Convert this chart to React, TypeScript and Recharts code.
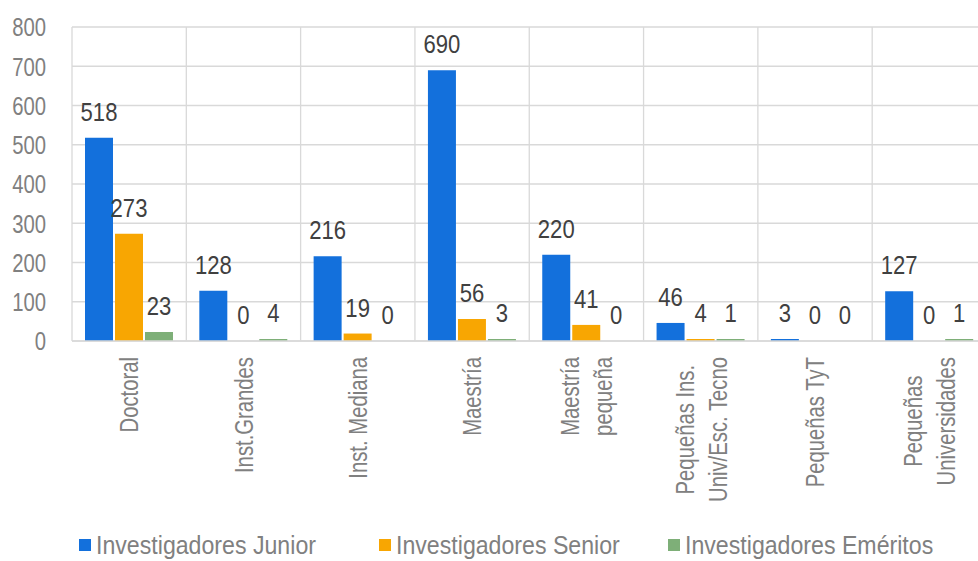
import React from "react";
import { BarChart, Bar, XAxis, YAxis, CartesianGrid, Legend } from "recharts";

const categories = [
  "Doctoral",
  "Inst.Grandes",
  "Inst. Mediana",
  "Maestría",
  "Maestría\npequeña",
  "Pequeñas Ins.\nUniv/Esc. Tecno",
  "Pequeñas TyT",
  "Pequeñas\nUniversidades",
];
const junior = [518, 128, 216, 690, 220, 46, 3, 127];
const senior = [273, 0, 19, 56, 41, 4, 0, 0];
const emeritos = [23, 4, 0, 3, 0, 1, 0, 1];
const yTicks = [0, 100, 200, 300, 400, 500, 600, 700, 800];

const seriesNames = ["Investigadores Junior", "Investigadores Senior", "Investigadores Eméritos"];
const seriesColors = ["#1370DC", "#F8A602", "#7EAF78"];
const seriesKeys = ["junior", "senior", "emeritos"];

const data = categories.map((c, i) => ({
  name: c,
  junior: junior[i],
  senior: senior[i],
  emeritos: emeritos[i],
}));

const FONT = "'Liberation Sans', Arial, sans-serif";
const FS = 26;
const SX = 0.78;
const LSX = 0.85;
const LEG_SX = 0.89;
const TICK_COLOR = "#808080";
const LABEL_COLOR = "#404040";
const GRID = "#d9d9d9";

let ctx: CanvasRenderingContext2D | null = null;
function measure(t: string) {
  if (!ctx) {
    const c = document.createElement("canvas");
    ctx = c.getContext("2d");
  }
  if (!ctx) return t.length * 12;
  ctx.font = `${FS}px 'Liberation Sans'`;
  return ctx.measureText(t).width * SX;
}

const XTick = (props: any) => {
  const { x, y, payload } = props;
  const lines = String(payload.value).split("\n");
  const n = lines.length;
  const widths = lines.map(measure);
  const maxW = Math.max(...widths);
  const LH = 33;
  const top = y;
  return (
    <g>
      {lines.map((ln, i) => {
        const bx = x + (i - (n - 1) / 2) * LH + 9.3;
        const ay = top + (maxW - widths[i]) / 2;
        return (
          <text
            key={i}
            transform={`translate(${bx},${ay}) rotate(-90) scale(${SX},1)`}
            textAnchor="end"
            fontFamily={FONT}
            fontSize={FS}
            fill={TICK_COLOR}
          >
            {ln}
          </text>
        );
      })}
    </g>
  );
};

const YTick = (props: any) => {
  const { y, payload } = props;
  return (
    <text
      transform={`translate(46,${y + 9.3}) scale(${SX},1)`}
      textAnchor="end"
      fontFamily={FONT}
      fontSize={FS}
      fill={TICK_COLOR}
    >
      {payload.value}
    </text>
  );
};

const BarLabel = (props: any) => {
  const { x, y, width, value } = props;
  if (value === undefined || value === null) return null;
  const cx = x + width / 2;
  return (
    <text
      transform={`translate(${cx},${y - 17}) scale(${LSX},1)`}
      textAnchor="middle"
      fontFamily={FONT}
      fontSize={FS}
      fill={LABEL_COLOR}
    >
      {value}
    </text>
  );
};

const legendLefts = [79, 379, 668];
const LegendContent = () => (
  <div style={{ position: "relative", width: 978, height: 30 }}>
    {seriesNames.map((nm, i) => (
      <div
        key={nm}
        style={{ position: "absolute", left: legendLefts[i], top: 2, height: 24, display: "flex", alignItems: "center" }}
      >
        <div style={{ width: 12, height: 12, background: seriesColors[i], marginRight: 5 }} />
        <span
          style={{
            fontFamily: FONT,
            fontSize: FS,
            color: TICK_COLOR,
            display: "inline-block",
            transform: `scaleX(${LEG_SX})`,
            transformOrigin: "left center",
            whiteSpace: "nowrap",
            lineHeight: "24px",
            height: 24,
          }}
        >
          {nm}
        </span>
      </div>
    ))}
  </div>
);

const minSize = (v: number) => (v > 0 ? 2 : 0.001);

export default function App() {
  return (
    <div style={{ position: "absolute", left: 0, top: 0, width: 978, height: 561, overflow: "hidden", background: "#fff" }}>
      <BarChart
        width={1000}
        height={561}
        data={data}
        margin={{ top: 27, right: 13.5, left: 0, bottom: 40 }}
        barGap={2}
        barSize={28}
      >
        <CartesianGrid
          stroke={GRID}
          strokeWidth={1.3}
          verticalCoordinatesGenerator={({ offset }: any) =>
            categories.map((_, i) => offset.left + (i * offset.width) / categories.length).concat([offset.left + offset.width])
          }
        />
        <XAxis
          dataKey="name"
          interval={0}
          tickLine={false}
          axisLine={{ stroke: GRID, strokeWidth: 1.5 }}
          height={150}
          tick={<XTick />}
          tickSize={0}
          tickMargin={16}
        />
        <YAxis
          domain={[0, 800]}
          ticks={yTicks}
          axisLine={false}
          tickLine={false}
          width={72}
          tick={<YTick />}
          interval={0}
        />
        <Legend verticalAlign="bottom" height={30} content={<LegendContent />} wrapperStyle={{ left: 0, bottom: 0, width: 978 }} />
        {seriesKeys.map((k, i) => (
          <Bar
            key={k}
            dataKey={k}
            name={seriesNames[i]}
            fill={seriesColors[i]}
            isAnimationActive={false}
            minPointSize={minSize}
            label={<BarLabel />}
          />
        ))}
      </BarChart>
    </div>
  );
}
